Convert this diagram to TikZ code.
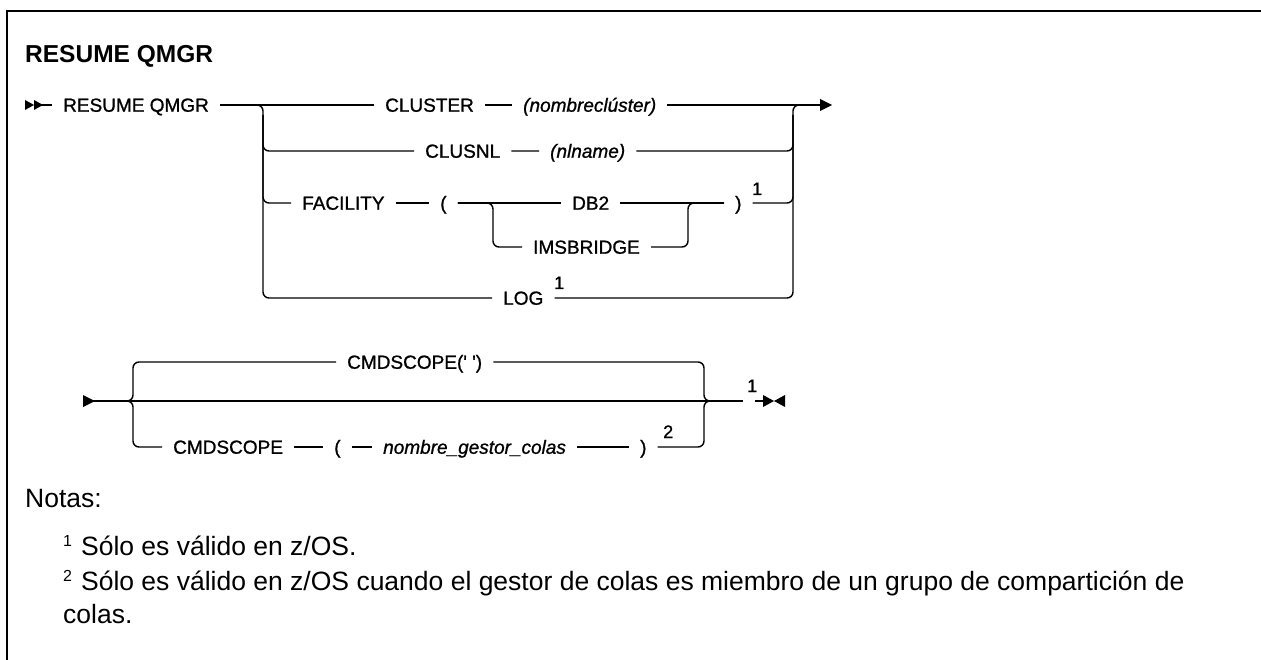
\documentclass[tikz,border=0pt]{standalone}
\usepackage{fontspec}
\setmainfont{Liberation Sans}
\newfontfamily\railfont{Liberation Sans}[FakeBold=1]
\usetikzlibrary{math}

\begin{document}
\begin{tikzpicture}[x=1pt, y=-1pt]

	\tikzmath{
		\ya = 105;  % ligne CLUSTER
		\yb = 151;  % ligne CLUSNL
		\yc = 203;  % ligne FACILITY
		\yd = 247;  % ligne IMSBRIDGE
		\ye = 298;  % ligne LOG
		\yf = 362;  % CMDSCOPE(' ')
		\yg = 401;  % ligne principale du bas
		\yh = 447;  % CMDSCOPE(...)
	}

	\useasboundingbox (0,0) rectangle (1261,660);

	\tikzset{
		rail/.style={line width=1.4pt, rounded corners=6pt},
		mot/.style={anchor=west, inner xsep=11pt, inner ysep=0pt,
				text height=13.5pt, text depth=0pt,
				font=\railfont\fontsize{19}{22}\selectfont},
		arg/.style={mot, font=\railfont\fontsize{19}{22}\selectfont\itshape},
		renvoi/.style={anchor=base west, inner sep=0pt,
				font=\railfont\fontsize{18}{18}\selectfont},
		texte/.style={anchor=base west, inner sep=0pt,
				font=\fontsize{26.5}{28}\selectfont}
	}

	% cadre
	\draw[line width=2.2pt] (1261,11) -- (7,11) -- (7,660);

	\node[anchor=base west, inner sep=0pt, font=\fontsize{24.5}{30}\selectfont\bfseries]
	(titre) at (25,63) {RESUME QMGR};

	% premiere partie
	\fill (25,\ya-5) -- (34,\ya) -- (25,\ya+5) -- cycle;
	\fill (34,\ya-5) -- (43,\ya) -- (34,\ya+5) -- cycle;
	\coordinate (dep) at (40,\ya);

	\node[mot] (resume)    at (52,\ya)  {RESUME QMGR};
	\node[mot] (cluster)   at (374,\ya) {CLUSTER};
	\node[arg] (clname)    at (512,\ya) {(nombreclúster)};
	\node[mot] (clusnl)    at (414,\yb) {CLUSNL};
	\node[arg] (nlname)    at (539,\yb) {(nlname)};
	\node[mot] (facility)  at (291,\yc) {FACILITY};
	\node[mot] (lparen)    at (429,\yc) {(};
	\node[mot] (db2)       at (561,\yc) {DB2};
	\node[mot] (rparen)    at (724,\yc) {)};
	\node[mot] (imsbridge) at (522,\yd) {IMSBRIDGE};
	\node[mot] (log)       at (492,\ye) {LOG};
	\node[renvoi] (ra) at (752,\yc-8) {1};
	\node[renvoi] (rb) at (554,\ye-9) {1};

	\coordinate (gb)  at (263,\ye);
	\coordinate (gv)  at (263,\ya+10);
	\coordinate (jd)  at (793,\ya);
	\coordinate (dv)  at (793,\ya+10);
	\coordinate (fin) at (820,\ya);
	\coordinate (ib)  at (493,\yd);
	\coordinate (ih)  at (688,\yc);

	\draw[rail] (dep) -- (resume) (resume) -- (cluster)
	(cluster) -- (clname) (clname) -- (fin);
	\draw[rail] (resume) -| (gb) -- (log);
	\draw[rail] (gv) |- (clusnl) (clusnl) -- (nlname);
	\draw[rail] (gv) |- (facility);
	\draw[rail] (facility) -- (lparen) (lparen) -- (db2) (db2) -- (rparen);
	\draw[rail] (lparen) -| (ib) -- (imsbridge);
	\draw[rail] (imsbridge) -| (ih) -- (rparen);
	\draw[rail] (nlname) -| (dv);
	\draw[rail] (rparen) -| (dv);
	\draw[rail] (log) -| (jd) -- (fin);
	\fill (820,\ya-6) -- (832,\ya) -- (820,\ya+6) -- cycle;

	% seconde partie
	\fill (83,\yg-6) -- (95,\yg) -- (83,\yg+6) -- cycle;
	\coordinate (dep2) at (90,\yg);
	\coordinate (bg)   at (133,\yg);
	\coordinate (bt)   at (127,\yg);
	\coordinate (bd)   at (704,\yg);
	\coordinate (bdt)  at (710,\yg);
	\coordinate (b2)   at (743,\yg);
	\coordinate (b3)   at (755,\yg);
	\coordinate (fin2) at (764,\yg);

	\node[mot] (cmdq)     at (336,\yf) {CMDSCOPE(\textquotesingle\ \textquotesingle)};
	\node[mot] (cmdscope) at (162,\yh) {CMDSCOPE};
	\node[mot] (lparenb)  at (323,\yh) {(};
	\node[arg] (qmgr)     at (372,\yh) {nombre\_gestor\_colas};
	\node[mot] (rparenb)  at (629,\yh) {)};
	\node[renvoi] (rc) at (747,\yg-9) {1};
	\node[renvoi] (rd) at (663,\yh-9) {2};

	\draw[rail] (dep2) -- (b2) (b3) -- (fin2);
	\draw[rail] (cmdq) -| (bg) -- (bt);
	\draw[rail] (cmdscope) -| (bg) -- (bt);
	\draw[rail] (cmdq) -| (bd) -- (bdt);
	\draw[rail] (rparenb) -| (bd) -- (bdt);
	\draw[rail] (cmdscope) -- (lparenb) (lparenb) -- (qmgr) (qmgr) -- (rparenb);
	\fill (763,\yg-6) -- (774,\yg) -- (763,\yg+6) -- cycle;
	\fill (785,\yg-6) -- (774,\yg) -- (785,\yg+6) -- cycle;

	% notes
	\node[texte] (notas) at (25,507) {Notas:};
	\node[texte] (note1) at (63,555)
	{\raisebox{9pt}{\fontsize{16}{16}\selectfont 1}\hspace{9pt}Sólo es válido en z/OS.};
	\node[texte] (note2) at (63,590)
	{\raisebox{9pt}{\fontsize{16}{16}\selectfont 2}\hspace{9pt}Sólo es válido en z/OS cuando el gestor de colas es miembro de un grupo de compartición de};
	\node[texte] (note2b) at (63,623) {colas.};

\end{tikzpicture}
\end{document}
